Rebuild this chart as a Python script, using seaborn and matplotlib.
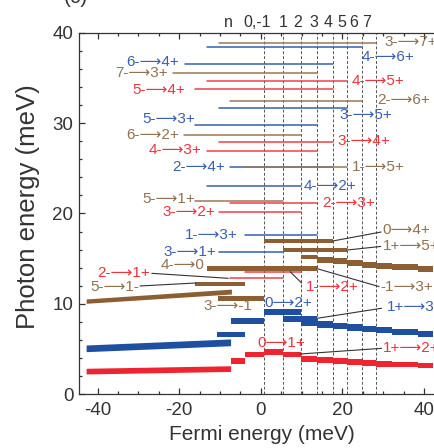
import pandas as pd
import seaborn as sns
import matplotlib.pyplot as plt

# dashed level positions (Fermi energy, meV) and labels above the frame
level_x = [0.85, 5.5, 9.9, 13.7, 17.6, 21.1, 24.7, 28.2]
top_labels = ["n", "0,-1", "1", "2", "3", "4", "5", "6", "7"]
top_label_x = [-8.0, -0.8, 5.4, 9.0, 12.9, 16.4, 19.8, 22.8, 26.0]

# thin transition lines: photon energy, start/end Fermi energy, colour family
thin_names = ["3-→7+", "4-→6+", "6-→4+", "7-→3+", "4-→5+", "5-→4+", "2-→6+",
              "3-→5+", "5-→3+", "6-→2+", "3-→4+", "4-→3+", "2-→4+", "1-→5+",
              "4-→2+", "5-→1+", "2-→3+", "3-→2+", "1-→3+", "3-→1+", "2-→1+",
              "1-→2+"]
thin_y = [38.9, 38.45, 36.53, 35.53, 34.65, 33.76, 32.5, 31.66, 29.8, 28.7,
          27.96, 26.98, 25.1, 25.1, 23.05, 21.4, 21.2, 20.2, 17.62, 15.7,
          12.9, 13.5]
thin_x0 = [-10.3, -13.3, -18.6, -21.4, -13.3, -16.0, -7.6, -10.3, -16.0, -18.9,
           -10.3, -13.3, -7.6, -3.9, -13.3, -16.0, -7.6, -10.3, -3.9, -10.3,
           -7.6, -3.9]
thin_x1 = [28.2, 24.7, 17.6, 13.7, 21.1, 17.6, 24.7, 21.1, 13.7, 9.9,
           17.6, 13.7, 17.6, 21.1, 9.9, 5.5, 13.7, 9.9, 13.7, 5.5,
           5.5, 9.9]
thin_fam = ["n", "b", "b", "n", "r", "r", "n", "b", "b", "n", "r", "r", "b", "n",
            "b", "n", "r", "r", "b", "b", "r", "r"]

# thick bars: start, end, lower, upper photon energy
brown_bars = [(-13.3, 13.7, 13.66, 14.18), (0.85, 17.6, 16.77, 17.14),
              (5.5, 21.1, 15.77, 16.14), (-16.0, -3.8, 12.0, 12.44),
              (-10.5, 0.85, 10.34, 10.86)]
blue_bars = [(-10.7, -3.9, 6.28, 6.90), (-7.4, 0.85, 7.76, 8.39),
             (0.85, 9.9, 8.75, 9.39), (5.5, 13.7, 8.01, 8.64)]
red_bars = [(-7.4, -3.9, 3.32, 3.95), (-3.9, 0.85, 4.07, 4.69),
            (0.85, 5.5, 4.32, 4.95), (5.5, 9.9, 4.07, 4.69)]

# staircases for n-type side
step_edges = [9.9, 13.7, 17.6, 21.1, 24.7, 28.2, 32.1, 38.6, 42.3]
brown_step_lo = [14.92, 14.48, 14.40, 14.18, 13.99, 13.80, 13.70, 13.55]
brown_step_hi = [15.40, 15.21, 15.04, 14.85, 14.66, 14.55, 14.42, 14.15]
blue_step_lo = [7.53, 7.35, 7.17, 7.02, 6.84, 6.72, 6.54, 6.35]
blue_step_hi = [8.50, 8.12, 7.90, 7.72, 7.53, 7.39, 7.17, 6.98]
red_step_lo = [3.58, 3.40, 3.32, 3.21, 3.10, 3.03, 2.96, 2.85]
red_step_hi = [4.21, 4.07, 3.95, 3.84, 3.77, 3.69, 3.58, 3.47]

# slanted bands on the p-type side
brown_wedge = ([-42.8, -7.2], [10.05, 11.08], [10.53, 11.62])
blue_wedge = ([-42.8, -7.4], [4.69, 5.35], [5.43, 6.10])
red_wedge = ([-42.8, -7.4], [2.22, 2.50], [2.85, 3.13])

# labels: text, x, y, alignment, colour family
labels = [("3-⟶7+", 30.2, 39.0, "left", "n"), ("4-⟶6+", 24.8, 37.3, "left", "b"),
          ("6-⟶4+", -20.0, 36.8, "right", "b"), ("7-⟶3+", -22.7, 35.6, "right", "n"),
          ("4-⟶5+", 22.35, 34.7, "left", "r"), ("5-⟶4+", -18.6, 33.7, "right", "r"),
          ("2-⟶6+", 28.5, 32.6, "left", "n"), ("3-⟶5+", 19.2, 30.9, "left", "b"),
          ("5-⟶3+", -16.1, 30.5, "right", "b"), ("6-⟶2+", -20.0, 28.7, "right", "n"),
          ("3-⟶4+", 18.9, 28.0, "left", "r"), ("4-⟶3+", -14.65, 27.0, "right", "r"),
          ("2-⟶4+", -8.8, 25.2, "right", "b"), ("1-⟶5+", 22.35, 25.2, "left", "n"),
          ("4-⟶2+", 10.6, 23.05, "left", "b"), ("5-⟶1+", -16.1, 21.6, "right", "n"),
          ("2-⟶3+", 15.0, 21.2, "left", "r"), ("3-⟶2+", -11.2, 20.2, "right", "r"),
          ("1-⟶3+", -5.6, 17.6, "right", "b"), ("3-⟶1+", -11.0, 15.7, "right", "b"),
          ("4-⟶0", -13.7, 14.3, "right", "n"), ("2-⟶1+", -33.5, 13.4, "center", "r"),
          ("1-⟶2+", 11.1, 11.86, "left", "r"), ("5-⟶1-", -35.7, 11.89, "center", "n"),
          ("3-⟶-1", -8.0, 9.75, "center", "n"), ("0⟶4+", 29.9, 18.17, "left", "n"),
          ("1+⟶5+", 29.9, 16.35, "left", "n"), ("-1⟶3+", 29.2, 11.86, "left", "n"),
          ("0⟶2+", 1.0, 10.1, "left", "b"), ("1+⟶3+", 30.9, 9.67, "left", "b"),
          ("0⟶1+", -0.9, 5.65, "left", "r"), ("1+⟶2+", 29.9, 5.06, "left", "r")]

# leader lines from bars to labels
leaders = [(17.6, 16.95, 29.5, 17.95), (21.1, 15.95, 29.4, 16.35),
           (13.7, 13.9, 29.0, 11.9), (-26.7, 13.37, -7.97, 12.82),
           (7.2, 13.55, 10.0, 12.3), (-29.6, 11.97, -15.9, 12.3),
           (13.85, 8.39, 29.6, 9.5), (9.6, 4.43, 29.6, 5.06)]

line_col = {"n": "#9C7855", "b": "#3560B2", "r": "#F0404A"}
bar_col = {"n": "#8B5E34", "b": "#1F4FA0", "r": "#EE2530"}
text_col = {"n": "#93704F", "b": "#3A60B2", "r": "#F0323C"}

sns.set_theme(style="ticks")
plt.rcParams["font.family"] = ["Liberation Sans", "DejaVu Sans"]
plt.rcParams["axes.unicode_minus"] = False

fig = plt.figure(figsize=(4.34, 4.48), dpi=100)
ax = fig.add_axes([79 / 434, 1 - 394 / 448, 355 / 434, 361 / 448])

for x in level_x:
    ax.axvline(x, color="#555555", lw=0.7, ls=(0, (3, 2)), zorder=1)

# thin lines through seaborn
rows = []
for name, y, x0, x1 in zip(thin_names, thin_y, thin_x0, thin_x1):
    rows.append({"x": x0, "y": y, "name": name})
    rows.append({"x": x1, "y": y, "name": name})
df = pd.DataFrame(rows)
pal = {n: line_col[f] for n, f in zip(thin_names, thin_fam)}
sns.lineplot(data=df, x="x", y="y", hue="name", units="name", estimator=None,
             palette=pal, legend=False, lw=1.1, sort=False, ax=ax, zorder=2)

# thick bars
for fam, bars in (("n", brown_bars), ("b", blue_bars), ("r", red_bars)):
    for x0, x1, lo, hi in bars:
        ax.bar(x0, hi - lo, bottom=lo, width=x1 - x0, align="edge",
               color=bar_col[fam], lw=0, zorder=3)
for fam, lo_s, hi_s in (("n", brown_step_lo, brown_step_hi),
                        ("b", blue_step_lo, blue_step_hi),
                        ("r", red_step_lo, red_step_hi)):
    for i in range(len(lo_s)):
        ax.bar(step_edges[i], hi_s[i] - lo_s[i], bottom=lo_s[i],
               width=step_edges[i + 1] - step_edges[i], align="edge",
               color=bar_col[fam], lw=0, zorder=3)
for fam, (wx, wlo, whi) in (("n", brown_wedge), ("b", blue_wedge), ("r", red_wedge)):
    ax.fill_between(wx, wlo, whi, color=bar_col[fam], lw=0, zorder=3)

for x0, y0, x1, y1 in leaders:
    ax.plot([x0, x1], [y0, y1], color="#333333", lw=0.8, zorder=4)

for txt, x, y, ha, fam in labels:
    ax.text(x, y, txt, ha=ha, va="center", fontsize=11, color=text_col[fam],
            zorder=5)

for txt, x in zip(top_labels, top_label_x):
    ax.text(x, 41.2, txt, ha="center", va="center", fontsize=11.5,
            color="#333333", clip_on=False)

ax.set_xlim(-44.55, 42.45)
ax.set_ylim(0, 40)
ax.set_xticks([-40, -20, 0, 20, 40])
ax.set_xticks(range(-40, 45, 5), minor=True)
ax.set_yticks([0, 10, 20, 30, 40])
ax.set_yticks(range(0, 41, 2), minor=True)
ax.tick_params(which="both", direction="in", top=True, right=False,
               labelsize=13.5, colors="#333333", width=0.9)
ax.tick_params(which="major", length=4.5)
ax.tick_params(which="minor", length=2.5)
ax.tick_params(axis="x", pad=6)
ax.tick_params(axis="y", pad=4)
ax.spines["right"].set_visible(False)
for s in ("left", "top", "bottom"):
    ax.spines[s].set_color("#333333")
    ax.spines[s].set_linewidth(0.9)

ax.set_xlabel("Fermi energy (meV)", fontsize=15, color="#333333")
ax.set_ylabel("Photon energy (meV)", fontsize=18.5, color="#333333")
ax.xaxis.set_label_coords(0.515, -0.085)
ax.yaxis.set_label_coords(-0.11, 0.52)

fig.text(76 / 434, 1 + 2 / 448, "(c)", ha="center", va="center", fontsize=15,
         color="#333333")

fig.savefig("out.png", dpi=100)
